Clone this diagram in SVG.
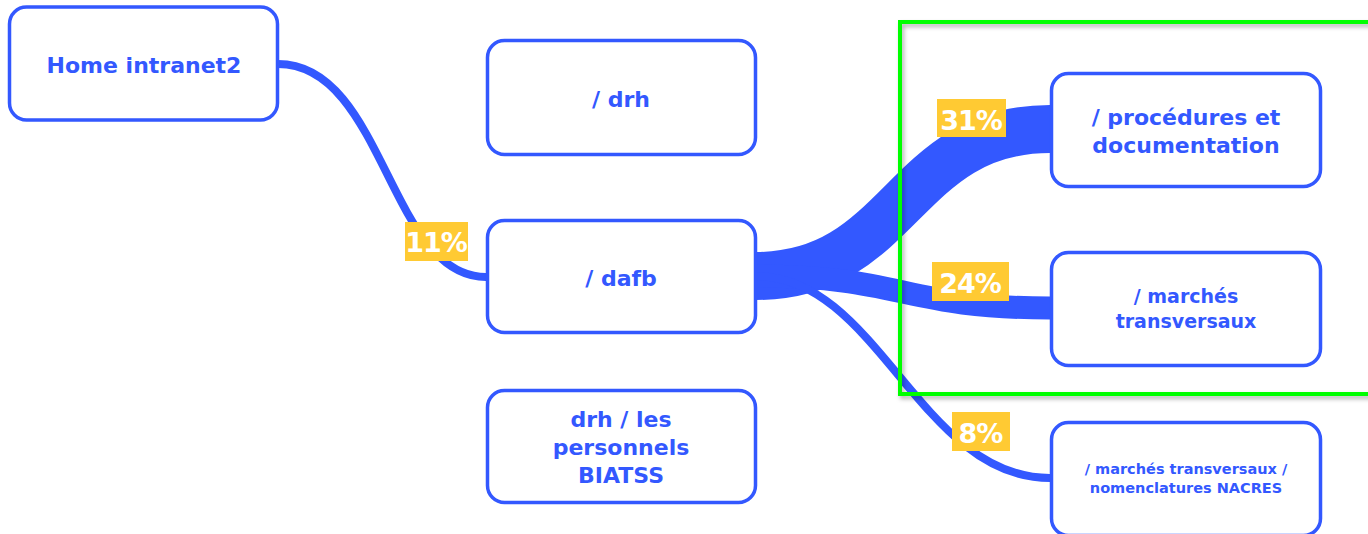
<svg xmlns="http://www.w3.org/2000/svg" width="1368" height="534" viewBox="0 0 1368 534">
<defs>
<filter id="shadow" x="-5%" y="-5%" width="115%" height="115%">
<feDropShadow dx="2" dy="3" stdDeviation="2" flood-color="#000" flood-opacity="0.3"/>
</filter>
<style>
.node rect{fill:#fff;stroke:#3358ff;stroke-width:3.5}
.node text{fill:#3358ff;font-family:"DejaVu Sans",sans-serif;font-weight:bold;text-anchor:middle}
.flow{fill:none;stroke:#3358ff}
.lbl rect{fill:#ffca33}
.lbl text{fill:#fff;font-family:"DejaVu Sans",sans-serif;font-weight:bold;font-size:27px;letter-spacing:-1px;text-anchor:middle}
</style>
</defs>
<rect width="1368" height="534" fill="#fff"/>
<g id="connectors">
<path class="flow" stroke-width="8" d="M278,64 C384,64 389,277 486,277"/>
<path class="flow" stroke-width="48" d="M756,276 C902,276 902,129 1050,129"/>
<path class="flow" stroke-width="23" d="M756,276 C903,276 903,308 1050,308"/>
<path class="flow" stroke-width="8" d="M756,276 C878,276 920,478 1050,478"/>
<g class="lbl"><rect x="405" y="222" width="63" height="39"/><text x="436" y="252">11%</text></g>
<g class="lbl"><rect x="937" y="99" width="69" height="38"/><text x="971" y="130">31%</text></g>
<g class="lbl"><rect x="932" y="262" width="77" height="39"/><text x="970" y="293">24%</text></g>
<g class="lbl"><rect x="952" y="412" width="58" height="39"/><text x="980.5" y="443">8%</text></g>
</g>
<g id="n-home" class="node"><rect x="9.5" y="7" width="268" height="113" rx="17"/><text x="144" y="73" font-size="22">Home intranet2</text></g>
<g id="n-drh" class="node"><rect x="487.5" y="40.5" width="268" height="114" rx="17"/><text x="621" y="107" font-size="22">/ drh</text></g>
<g id="n-dafb" class="node"><rect x="487.5" y="220.5" width="268" height="112" rx="17"/><text x="621" y="286" font-size="22">/ dafb</text></g>
<g id="n-biatss" class="node"><rect x="487.5" y="390.5" width="268" height="112" rx="17"/><text x="621" font-size="22"><tspan x="621" y="427">drh / les</tspan><tspan x="621" y="455">personnels</tspan><tspan x="621" y="483">BIATSS</tspan></text></g>
<g id="n-proc" class="node"><rect x="1051.5" y="73.5" width="269" height="113" rx="17"/><text font-size="22"><tspan x="1186" y="125">/ procédures et</tspan><tspan x="1186" y="153">documentation</tspan></text></g>
<g id="n-marches" class="node"><rect x="1051.5" y="252.5" width="269" height="113" rx="17"/><text font-size="19"><tspan x="1186" y="303">/ marchés</tspan><tspan x="1186" y="328">transversaux</tspan></text></g>
<g id="n-nacres" class="node"><rect x="1051.5" y="422.5" width="269" height="113" rx="17"/><text font-size="14.5"><tspan x="1186" y="474">/ marchés transversaux /</tspan><tspan x="1186" y="493">nomenclatures NACRES</tspan></text></g>
<g id="highlight"><rect x="900" y="22" width="520" height="372" fill="none" stroke="#00ff00" stroke-width="4" filter="url(#shadow)"/></g>
</svg>
